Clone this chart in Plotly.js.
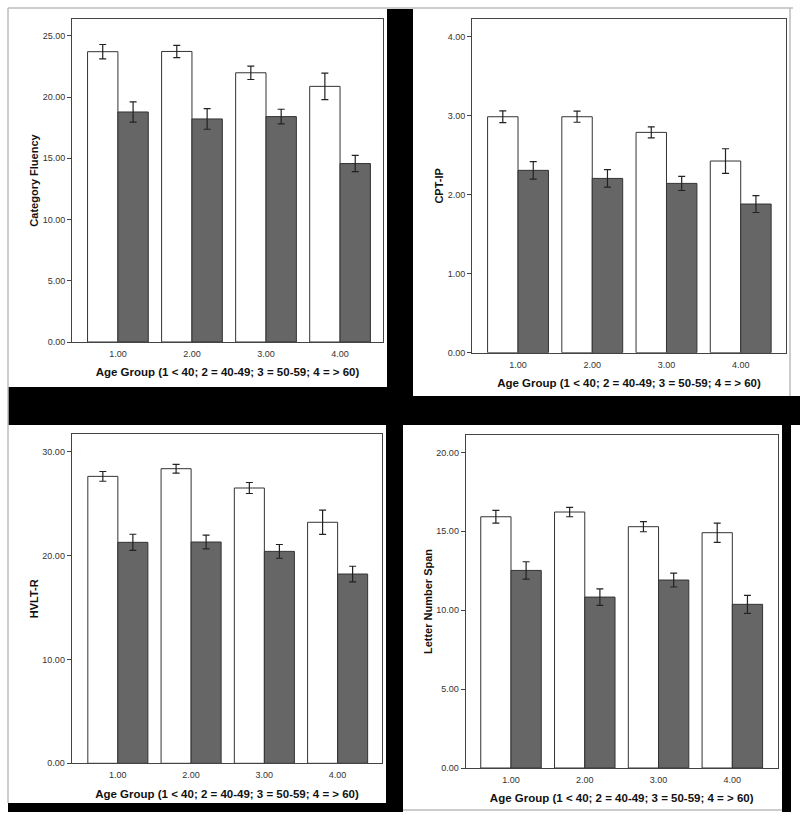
<!DOCTYPE html>
<html>
<head>
<meta charset="utf-8">
<script src="https://cdn.plot.ly/plotly-3.0.1.min.js"></script>
<style>html,body{margin:0;padding:0;background:#fff;}#chart{width:800px;height:821px;}</style>
</head>
<body>
<div id="chart"></div>
<script>
// ---- data ----
const ageGroups = [1, 2, 3, 4];
const xTitle = "Age Group (1 < 40; 2 = 40-49; 3 = 50-59; 4 = > 60)";

const cfTitle = "Category Fluency";
const cfWhite = [23.70, 23.72, 21.98, 20.87];
const cfWhiteErr = [0.59, 0.50, 0.55, 1.08];
const cfDark = [18.78, 18.21, 18.40, 14.57];
const cfDarkErr = [0.83, 0.84, 0.60, 0.66];

const cptTitle = "CPT-IP";
const cptWhite = [2.984, 2.984, 2.786, 2.424];
const cptWhiteErr = [0.075, 0.07, 0.07, 0.155];
const cptDark = [2.306, 2.204, 2.141, 1.880];
const cptDarkErr = [0.11, 0.11, 0.09, 0.107];

const hvTitle = "HVLT-R";
const hvWhite = [27.62, 28.36, 26.50, 23.20];
const hvWhiteErr = [0.47, 0.42, 0.53, 1.17];
const hvDark = [21.27, 21.30, 20.40, 18.22];
const hvDarkErr = [0.78, 0.66, 0.66, 0.75];

const lnTitle = "Letter Number Span";
const lnWhite = [15.92, 16.22, 15.29, 14.91];
const lnWhiteErr = [0.40, 0.30, 0.32, 0.61];
const lnDark = [12.52, 10.83, 11.91, 10.37];
const lnDarkErr = [0.55, 0.52, 0.44, 0.57];

// ---- layout helpers ----
const W = 800, H = 821;
const px = x => x / W;
const py = y => 1 - y / H;

const FONT = "Arial, 'Liberation Sans', sans-serif";
const barLine = {color: "#333", width: 1};
const errStyle = {thickness: 1.2, width: 3.5, color: "#222"};

function pair(xa, ya, white, whiteErr, dark, darkErr) {
  return [
    {type: "bar", x: ageGroups, y: white, xaxis: xa, yaxis: ya,
     marker: {color: "#ffffff", line: barLine},
     error_y: Object.assign({type: "data", array: whiteErr, visible: true}, errStyle),
     showlegend: false, hoverinfo: "y"},
    {type: "bar", x: ageGroups, y: dark, xaxis: xa, yaxis: ya,
     marker: {color: "#666666", line: barLine},
     error_y: Object.assign({type: "data", array: darkErr, visible: true}, errStyle),
     showlegend: false, hoverinfo: "y"}
  ];
}

const traces = [].concat(
  pair("x", "y", cfWhite, cfWhiteErr, cfDark, cfDarkErr),
  pair("x2", "y2", cptWhite, cptWhiteErr, cptDark, cptDarkErr),
  pair("x3", "y3", hvWhite, hvWhiteErr, hvDark, hvDarkErr),
  pair("x4", "y4", lnWhite, lnWhiteErr, lnDark, lnDarkErr)
);

function xaxis(domain, range, anchor) {
  return {
    domain: domain, range: range, anchor: anchor,
    tickmode: "array", tickvals: ageGroups, tickformat: ".2f",
    ticks: "", showgrid: false, zeroline: false,
    showline: true, mirror: true, linecolor: "#444", linewidth: 1,
    ticklabelstandoff: 3,
    tickfont: {family: FONT, size: 9, color: "#333"},
    title: {text: xTitle, font: {family: FONT, size: 11.5, color: "#111", weight: "bold"}, standoff: 10},
    fixedrange: true
  };
}
function yaxis(domain, range, dtick, anchor, title) {
  return {
    domain: domain, range: range, anchor: anchor,
    tick0: 0, dtick: dtick, tickformat: ".2f",
    ticks: "outside", ticklen: 4, tickcolor: "#444", tickwidth: 1,
    showgrid: false, zeroline: false,
    showline: true, mirror: true, linecolor: "#444", linewidth: 1,
    tickfont: {family: FONT, size: 9, color: "#333"},
    title: {text: title, font: {family: FONT, size: 11, color: "#111", weight: "bold"}, standoff: 1},
    fixedrange: true
  };
}

const rect = (x0, y0, x1, y1) => ({type: "rect", xref: "paper", yref: "paper",
  x0: px(x0), x1: px(x1), y0: py(y1), y1: py(y0),
  fillcolor: "#000", line: {width: 0}, layer: "below"});
const gline = (x0, y0, x1, y1) => ({type: "line", xref: "paper", yref: "paper",
  x0: px(x0), x1: px(x1), y0: py(y0), y1: py(y1),
  line: {color: "#bdbdbd", width: 1.5}, layer: "below"});

const layout = {
  width: W, height: H,
  margin: {l: 0, r: 0, t: 0, b: 0},
  paper_bgcolor: "#fff", plot_bgcolor: "#fff",
  barmode: "group", bargap: 0.18, bargroupgap: 0,
  showlegend: false,
  font: {family: FONT, color: "#222"},
  xaxis:  xaxis([px(72), px(383)], [0.38, 4.58], "y"),
  yaxis:  yaxis([py(342), py(19)], [0, 26.37], 5, "x", cfTitle),
  xaxis2: xaxis([px(472), px(786)], [0.38, 4.61], "y2"),
  yaxis2: yaxis([py(352.7), py(19)], [0, 4.22], 1, "x2", cptTitle),
  xaxis3: xaxis([px(71.7), px(382.3)], [0.37, 4.61], "y3"),
  yaxis3: yaxis([py(763.3), py(434.3)], [0, 31.67], 10, "x3", hvTitle),
  xaxis4: xaxis([px(465.7), px(777.7)], [0.386, 4.615], "y4"),
  yaxis4: yaxis([py(768), py(435)], [0, 21.1], 5, "x4", lnTitle),
  shapes: [
    rect(387, 9, 413, 425),
    rect(8, 387, 413, 425),
    rect(413, 396, 800, 425),
    rect(386, 425, 403, 812),
    rect(8, 803, 386, 812),
    rect(782, 425, 791, 812),
    gline(8, 8, 793, 8),
    gline(8, 8, 8, 803),
    gline(790, 8, 790, 396),
    gline(403, 810, 782, 810)
  ]
};

Plotly.newPlot("chart", traces, layout, {displayModeBar: false, staticPlot: true});
</script>
</body>
</html>
